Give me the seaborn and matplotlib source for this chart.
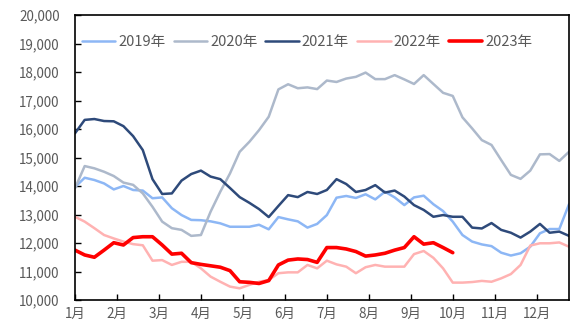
import numpy as np
import pandas as pd
import matplotlib
matplotlib.use("Agg")
import matplotlib.pyplot as plt
import seaborn as sns
from matplotlib.ticker import FuncFormatter

# Weekly price series, one list per year (week index 0..51)
y2019 = [13960, 14290, 14210, 14090, 13880, 14000, 13860, 13840, 13570, 13600,
         13220, 12980, 12810, 12800, 12760, 12690, 12570, 12570, 12570, 12640,
         12480, 12910, 12830, 12760, 12540, 12670, 12980, 13590, 13650, 13580,
         13710, 13530, 13800, 13600, 13330, 13600, 13660, 13360, 13120, 12750,
         12280, 12050, 11950, 11890, 11660, 11560, 11640, 11870, 12340, 12490,
         12490, 13360]
y2020 = [13920, 14700, 14620, 14500, 14350, 14120, 14040, 13740, 13270, 12750,
         12520, 12460, 12250, 12280, 13100, 13800, 14440, 15200, 15550, 15960,
         16430, 17390, 17570, 17430, 17460, 17400, 17700, 17650, 17770, 17830,
         17980, 17750, 17750, 17890, 17740, 17580, 17890, 17580, 17270, 17160,
         16410, 16020, 15610, 15440, 14910, 14390, 14250, 14540, 15110, 15120,
         14880, 15200]
y2021 = [15850, 16320, 16350, 16280, 16270, 16100, 15750, 15260, 14240, 13720,
         13740, 14190, 14420, 14540, 14330, 14240, 13930, 13610, 13410, 13190,
         12910, 13300, 13680, 13610, 13790, 13720, 13860, 14240, 14070, 13790,
         13860, 14030, 13770, 13840, 13630, 13330, 13160, 12920, 12980, 12920,
         12920, 12540, 12510, 12700, 12460, 12360, 12190, 12400, 12670, 12360,
         12400, 12250]
y2022 = [12920, 12750, 12520, 12280, 12160, 12050, 11960, 11920, 11380, 11400,
         11230, 11340, 11340, 11110, 10820, 10640, 10470, 10410, 10530, 10640,
         10700, 10940, 10970, 10970, 11230, 11110, 11380, 11250, 11170, 10940,
         11150, 11230, 11170, 11170, 11170, 11610, 11720, 11480, 11110, 10610,
         10610, 10630, 10670, 10640, 10760, 10910, 11230, 11910, 11990, 11990,
         12020, 11870]
y2023 = [11750, 11580, 11500, 11750, 12010, 11930, 12190, 12220, 12220, 11930,
         11610, 11640, 11310, 11250, 11200, 11150, 11030, 10640, 10620, 10580,
         10680, 11230, 11400, 11440, 11420, 11320, 11840, 11840, 11790, 11700,
         11540, 11580, 11640, 11750, 11840, 12220, 11960, 12010, 11840, 11660]

years = ["2019年", "2020年", "2021年", "2022年", "2023年"]
series = [y2019, y2020, y2021, y2022, y2023]
months = [f"{m}月" for m in range(1, 13)]

colors = ["#8DB7F5", "#ADB9CB", "#2E4A7A", "#FFB2B2", "#FF0000"]
widths = [1.8, 1.8, 1.8, 1.8, 2.6]

frames = []
for name, vals in zip(years, series):
    frames.append(pd.DataFrame({"week": np.arange(len(vals)), "price": vals, "year": name}))
df = pd.concat(frames, ignore_index=True)

sns.set_theme(style="white")
plt.rcParams["font.family"] = ["Noto Sans CJK SC", "DejaVu Sans"]

fig = plt.figure(figsize=(5.74, 3.27), dpi=100)
ax = fig.add_axes([75 / 574, 1 - 300 / 327, 494 / 574, 285 / 327])

for name, c, lw in zip(years, colors, widths):
    sns.lineplot(data=df[df["year"] == name], x="week", y="price", color=c,
                 linewidth=lw, ax=ax, label=name)

ax.set_xlim(0, 51)
ax.set_ylim(10000, 20000)
ax.set_yticks(np.arange(10000, 20001, 1000))
ax.yaxis.set_major_formatter(FuncFormatter(lambda v, p: f"{int(v):,}"))
ax.set_xticks([i * 52 / 12 for i in range(12)])
ax.set_xticklabels(months)
ax.set_xlabel("")
ax.set_ylabel("")

ax.tick_params(axis="both", direction="in", length=4, width=1, color="black",
               labelcolor="#595959", labelsize=9.7)
ax.tick_params(axis="y", pad=11)
ax.tick_params(axis="x", pad=5)
ax.yaxis.set_ticks_position("left")
ax.xaxis.set_ticks_position("bottom")
for s in ax.spines.values():
    s.set_color("black")
    s.set_linewidth(1.2)

leg = ax.legend(loc="center", bbox_to_anchor=(0.47, 0.905), ncol=5, frameon=False,
                fontsize=10.5, handlelength=2.3, handletextpad=0.2,
                columnspacing=0.55, labelcolor="#595959")

fig.savefig("out.png", dpi=100, facecolor="white")
